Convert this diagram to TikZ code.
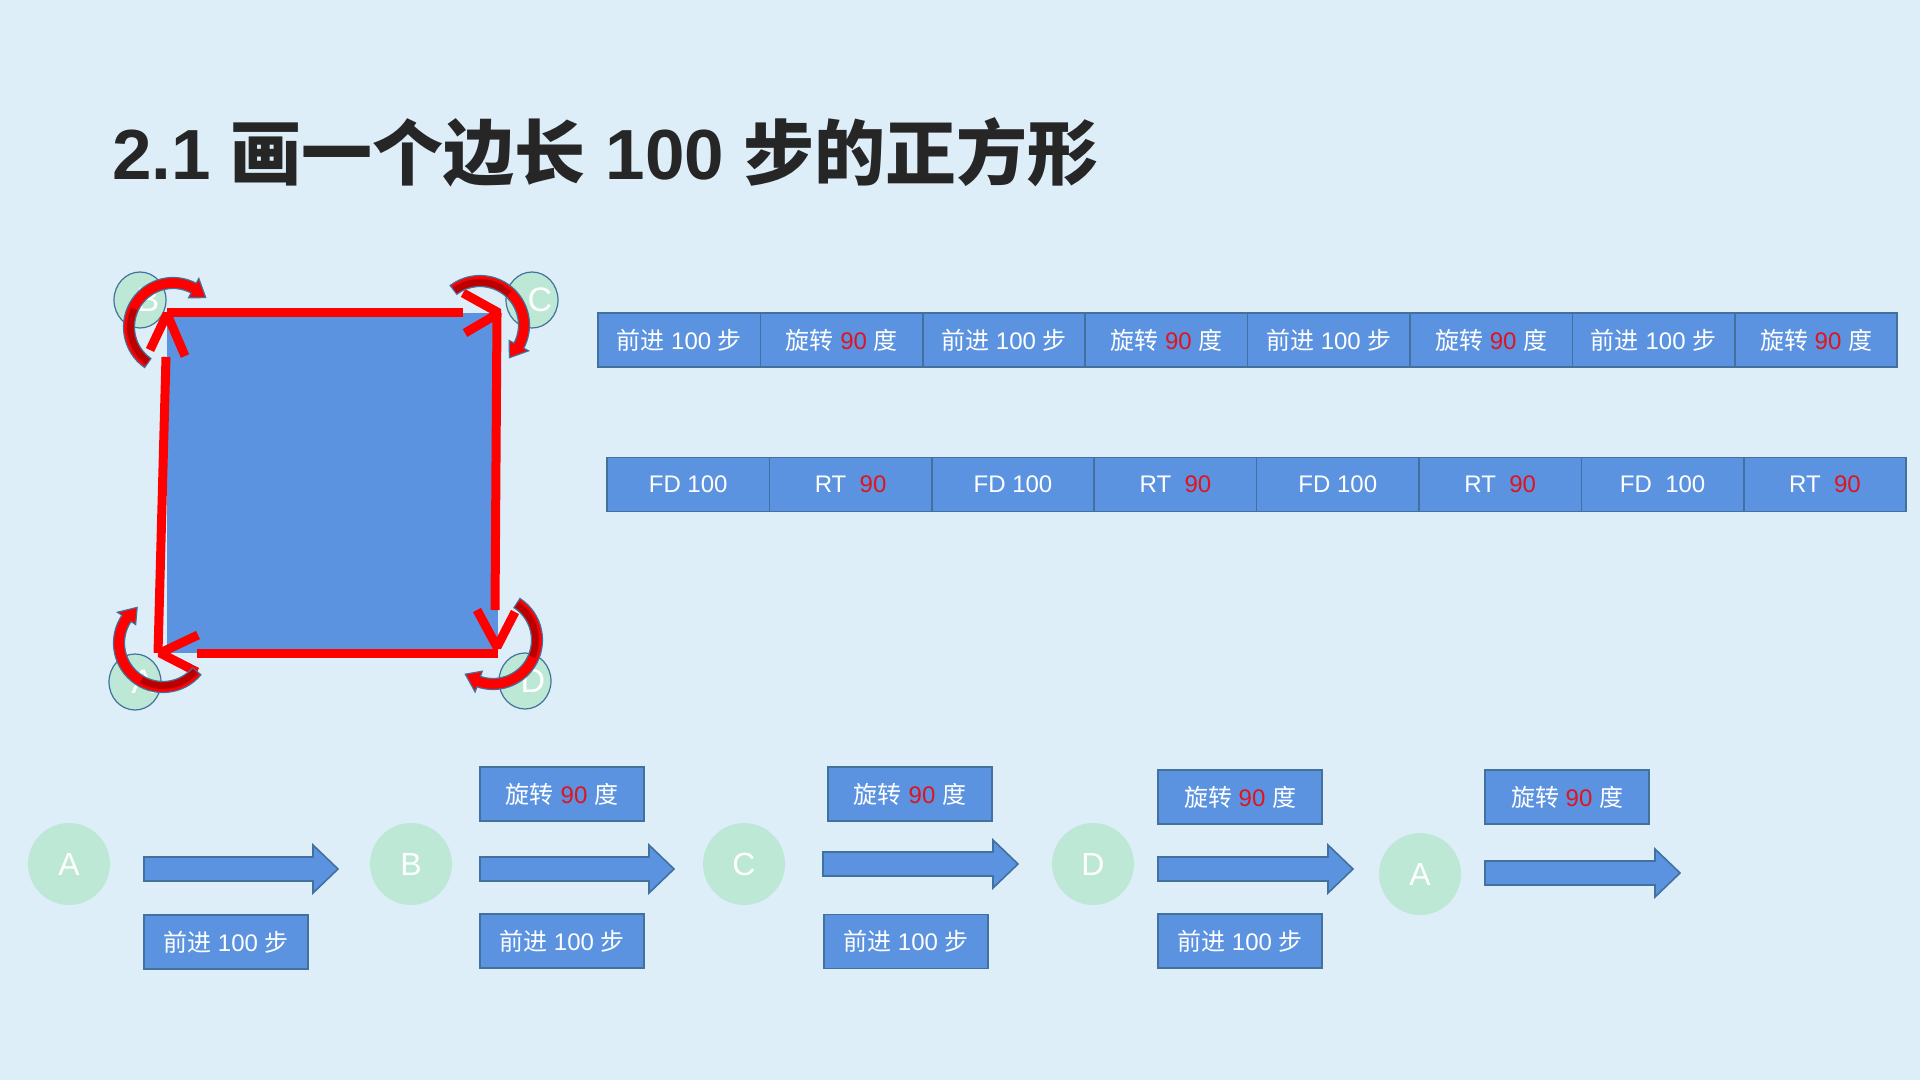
\documentclass[tikz,border=0pt]{standalone}
\usepackage{fontspec}
\setmainfont{Liberation Sans}
\newfontfamily\cjk{Noto Sans CJK SC}
\usetikzlibrary{calc,shapes.geometric}
\definecolor{bg}{HTML}{DDEEF9}
\definecolor{boxblue}{HTML}{5B93E0}
\definecolor{boxline}{HTML}{41719C}
\definecolor{numred}{HTML}{E0141E}
\definecolor{mint}{HTML}{BDE8D5}
\definecolor{titlec}{HTML}{262626}
\definecolor{darkred}{HTML}{B80000}
\newcommand\fwdtxt{{\cjk 前进} 100 {\cjk 步}}
\newcommand\rottxt{{\cjk 旋转} \textcolor{numred}{90} {\cjk 度}}
\newcommand\rttxt{RT\ \ \textcolor{numred}{90}}
\newcommand\rotarrow[4]{%
  \pgfmathsetmacro\ah{#4-20}%
  \pgfmathsetmacro\am{#3+80}%
  \coordinate (rc) at (#1,#2);
  \filldraw[fill=red, draw=boxline, line width=0.6pt]
    ($(rc)+(#3:49.5)$) arc[start angle=#3, end angle=\ah, radius=49.5]
    -- ($(rc)+(\ah:55)$) -- ($(rc)+(#4:44)$) -- ($(rc)+(\ah:33)$)
    -- ($(rc)+(\ah:38.5)$) arc[start angle=\ah, end angle=#3, radius=38.5] -- cycle;
  \fill[darkred] ($(rc)+(#3+1:46)$) arc[start angle=#3+1, end angle=\am, radius=46]
    -- ($(rc)+(\am:39.5)$) arc[start angle=\am, end angle=#3+1, radius=39.5] -- cycle;
}
\newcommand\blockarrow[3]{% x0 x1 yc
  \filldraw[fill=boxblue, draw=boxline, line width=0.8pt]
    (#1,#3-12) -- (#2-25,#3-12) -- (#2-25,#3-24) -- (#2,#3) -- (#2-25,#3+24)
    -- (#2-25,#3+12) -- (#1,#3+12) -- cycle;
}
\begin{document}
\begin{tikzpicture}[x=0.5pt, y=-0.5pt,
  cmd/.style={draw=boxline, line width=0.8pt, fill=boxblue, text=white,
    minimum width=81.2pt, minimum height=27pt, inner sep=0pt,
    font=\fontsize{12}{14}\selectfont},
  step2/.style={cmd, minimum width=82pt},
  corner/.style={ellipse, draw=boxline, line width=0.6pt, fill=mint,
    minimum width=26pt, minimum height=28pt, inner sep=0pt},
  cornerlbl/.style={text=white, font=\fontsize{17}{17}\selectfont, inner sep=0pt},
  stop/.style={circle, fill=mint, minimum size=41pt, inner sep=0pt, text=white,
    font=\fontsize{16}{16}\selectfont},
  redln/.style={draw=red, line width=4.5pt},
  redv/.style={redln, line join=bevel}]
\useasboundingbox (0,0) rectangle (1920,1080);
\fill[bg] (0,0) rectangle (1920,1080);

% title
\node[anchor=base west, text=titlec, inner sep=0pt,
  font=\fontsize{35.5}{40}\selectfont\bfseries] (title) at (112,180)
  {2.1 {\cjk 画一个边长} 100 {\cjk 步的正方形}};

% corner circles
\node[corner] (cB) at (140,300) {};
\node[corner] (cC) at (532,300) {};
\node[corner] (cA) at (135,682) {};
\node[corner] (cD) at (525,681) {};
\node[cornerlbl] (lB) at ([xshift=4pt]cB.center) {B};
\node[cornerlbl] (lC) at ([xshift=4pt]cC.center) {C};
\node[cornerlbl] (lA) at ([xshift=4pt]cA.center) {A};
\node[cornerlbl] (lD) at ([xshift=4pt]cD.center) {D};

% square
\fill[boxblue] (167,313) rectangle (498,653);
\draw[redln] (158,653) -- (166,357);
\draw[redv] (150,350) -- (167,314) -- (185,356);
\draw[redln] (167,313) -- (463,313);
\draw[redv] (463,293) -- (499,313) -- (465,333);
\draw[redln] (497,313) -- (495,610);
\draw[redv] (477,610) -- (497,647) -- (515,612);
\draw[redln] (498,653) -- (197,653);
\draw[redv] (198,635) -- (160,653) -- (197,672);

% rotation arrows
\rotarrow{173}{327}{125}{318}
\rotarrow{480}{325}{233}{408}
\rotarrow{493}{640}{-57}{129}
\rotarrow{163}{643}{40}{234}

% row 1
\node[cmd] (a1) at (679.2,340) {\fwdtxt};
\node[cmd] (a2) at (841.6,340) {\rottxt};
\node[cmd] (a3) at (1004,340) {\fwdtxt};
\node[cmd] (a4) at (1166.4,340) {\rottxt};
\node[cmd] (a5) at (1328.8,340) {\fwdtxt};
\node[cmd] (a6) at (1491.2,340) {\rottxt};
\node[cmd] (a7) at (1653.6,340) {\fwdtxt};
\node[cmd] (a8) at (1816,340) {\rottxt};

% row 2
\node[cmd] (b1) at (688.2,484.5) {FD 100};
\node[cmd] (b2) at (850.6,484.5) {\rttxt};
\node[cmd] (b3) at (1013,484.5) {FD 100};
\node[cmd] (b4) at (1175.4,484.5) {\rttxt};
\node[cmd] (b5) at (1337.8,484.5) {FD 100};
\node[cmd] (b6) at (1500.2,484.5) {\rttxt};
\node[cmd] (b7) at (1662.6,484.5) {FD\ \ 100};
\node[cmd] (b8) at (1825,484.5) {\rttxt};

% bottom sequence
\node[stop] (sA) at (69,864) {A};
\node[stop] (sB) at (411,864) {B};
\node[stop] (sC) at (744,864) {C};
\node[stop] (sD) at (1093,864) {D};
\node[stop] (sA2) at (1420,874) {A};

\blockarrow{144}{338}{869}
\blockarrow{480}{674}{869}
\blockarrow{823}{1018}{864}
\blockarrow{1158}{1353}{869}
\blockarrow{1485}{1680}{873}

\node[step2] (f1) at (226,942) {\fwdtxt};
\node[step2] (t2) at (562,794) {\rottxt};
\node[step2] (f2) at (562,941) {\fwdtxt};
\node[step2] (t3) at (910,794) {\rottxt};
\node[step2] (f3) at (906,941.5) {\fwdtxt};
\node[step2] (t4) at (1240,797) {\rottxt};
\node[step2] (f4) at (1240,941) {\fwdtxt};
\node[step2] (t5) at (1567,797) {\rottxt};
\end{tikzpicture}
\end{document}
